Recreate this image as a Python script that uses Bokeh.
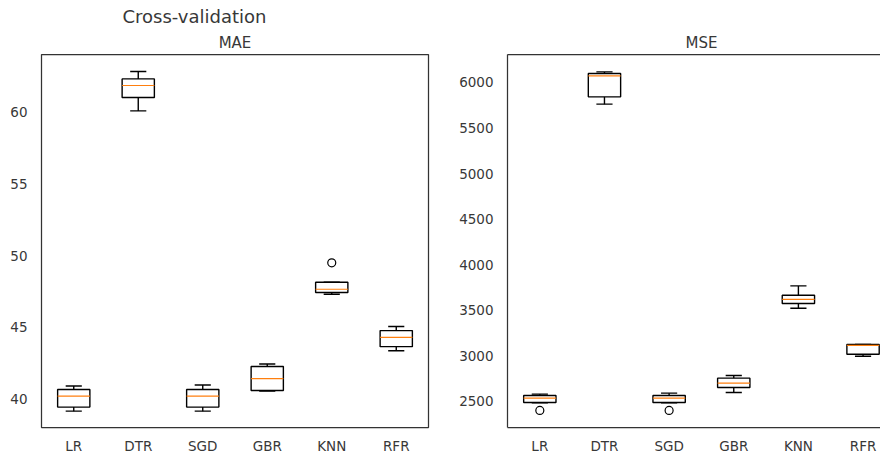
import numpy as np
from bokeh.plotting import figure
from bokeh.models import Range1d, FixedTicker, Title, LinearAxis, ColumnDataSource
from bokeh.layouts import row
from bokeh.embed import file_html
from bokeh.resources import INLINE

models = ["LR", "DTR", "SGD", "GBR", "KNN", "RFR"]

# MAE box statistics
mae_whislo = [39.16, 60.07, 39.16, 40.56, 47.30, 43.37]
mae_q1 = [39.44, 61.00, 39.44, 40.60, 47.42, 43.65]
mae_med = [40.21, 61.84, 40.21, 41.42, 47.65, 44.30]
mae_q3 = [40.67, 62.30, 40.67, 42.27, 48.14, 44.77]
mae_whishi = [40.91, 62.82, 40.98, 42.44, 48.14, 45.05]
mae_out_model = ["KNN"]
mae_out_val = [49.49]

# MSE box statistics
mse_whislo = [2481, 5762, 2481, 2596, 3521, 2994]
mse_q1 = [2486, 5842, 2486, 2650, 3573, 3016]
mse_med = [2533, 6072, 2533, 2698, 3617, 3112]
mse_q3 = [2563, 6099, 2563, 2753, 3664, 3123]
mse_whishi = [2577, 6116, 2588, 2782, 3766, 3123]
mse_out_model = ["LR", "SGD"]
mse_out_val = [2398, 2398]

mae_ticks = [40, 45, 50, 55, 60]
mse_ticks = [2500, 3000, 3500, 4000, 4500, 5000, 5500, 6000]

FONT = "DejaVu Sans"
TXT = "#383838"
EDGE = "#333333"


def style(p, yticks):
    p.grid.visible = False
    for ax in (p.xaxis, p.yaxis):
        ax.major_tick_line_color = None
        ax.minor_tick_line_color = None
        ax.major_tick_out = 0
        ax.minor_tick_out = 0
        ax.major_label_text_font = FONT
        ax.major_label_text_font_size = "13.5px"
        ax.major_label_text_color = TXT
    xs = list(range(1, len(models) + 1))
    p.xaxis.ticker = FixedTicker(ticks=xs)
    p.xaxis.major_label_overrides = {i: m for i, m in zip(xs, models)}
    p.xaxis.major_label_standoff = 10
    p.yaxis.ticker = FixedTicker(ticks=yticks)
    p.yaxis.major_label_standoff = 14


def draw(p, whislo, q1, med, q3, whishi, out_model, out_val):
    x = np.arange(1, len(models) + 1, dtype=float)
    w = 0.5
    src = ColumnDataSource(dict(
        x=x, xl=x - w / 2, xr=x + w / 2, cl=x - w / 4, cr=x + w / 4,
        lo=whislo, q1=q1, med=med, q3=q3, hi=whishi))
    kw = dict(source=src, line_color="black", line_width=1.4)
    p.segment(x0="x", y0="q3", x1="x", y1="hi", **kw)
    p.segment(x0="x", y0="q1", x1="x", y1="lo", **kw)
    p.segment(x0="cl", y0="hi", x1="cr", y1="hi", **kw)
    p.segment(x0="cl", y0="lo", x1="cr", y1="lo", **kw)
    p.vbar(x="x", bottom="q1", top="q3", width=w, fill_color="white", **kw)
    p.segment(x0="xl", y0="med", x1="xr", y1="med", source=src,
              line_color="#ff7f0e", line_width=1.2)
    ox = [models.index(m) + 1 for m in out_model]
    p.scatter(ox, out_val, marker="circle", size=8, fill_color=None,
              line_color="black", line_width=1.2)


# Left panel: MAE
p1 = figure(frame_width=387, frame_height=373,
            x_range=Range1d(0.5, 6.5), y_range=Range1d(38.02, 64.0),
            output_backend="svg", toolbar_location=None,
            min_border_left=41, min_border_right=8,
            min_border_top=54, min_border_bottom=29)
p1.outline_line_color = EDGE
p1.outline_line_width = 1.25
p1.outline_line_alpha = 1.0
style(p1, mae_ticks)
p1.xaxis.axis_line_color = None
p1.yaxis.axis_line_color = None
draw(p1, mae_whislo, mae_q1, mae_med, mae_q3, mae_whishi, mae_out_model, mae_out_val)
p1.add_layout(Title(text="MAE", align="center", text_font=FONT, text_font_size="15px",
                    text_font_style="normal", text_color=TXT, standoff=6), "above")
p1.add_layout(Title(text="Cross-validation", align="left", offset=81, text_font=FONT,
                    text_font_size="18px", text_font_style="normal", text_color=TXT,
                    standoff=4), "above")

# Right panel: MSE (cropped on the right like the reference)
p2 = figure(frame_width=373, frame_height=373,
            x_range=Range1d(0.5, 6.27), y_range=Range1d(2211, 6307),
            output_backend="svg", toolbar_location=None,
            min_border_left=71, min_border_right=0,
            min_border_top=54, min_border_bottom=29)
p2.outline_line_color = None
style(p2, mse_ticks)
for ax in (p2.xaxis, p2.yaxis):
    ax.axis_line_color = EDGE
    ax.axis_line_width = 1.25
top = LinearAxis(ticker=FixedTicker(ticks=[]), major_tick_out=0, minor_tick_out=0,
                 major_label_standoff=0, major_label_text_font_size="0px",
                 axis_line_color=EDGE, axis_line_width=1.25)
p2.add_layout(top, "above")
draw(p2, mse_whislo, mse_q1, mse_med, mse_q3, mse_whishi, mse_out_model, mse_out_val)
p2.add_layout(Title(text="MSE", align="left", offset=178, text_font=FONT, text_font_size="15px",
                    text_font_style="normal", text_color=TXT, standoff=6), "above")

layout = row(p1, p2)
open("out.html", "w").write(file_html(layout, INLINE))
